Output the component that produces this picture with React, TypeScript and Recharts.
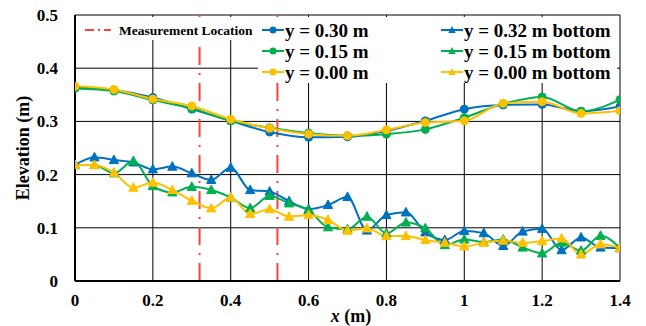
import React from 'react';
import { LineChart, Line, XAxis, YAxis, CartesianGrid, ReferenceLine } from 'recharts';

// ---- data ----
const xTop = [0, 0.1, 0.2, 0.3, 0.4, 0.5, 0.6, 0.7, 0.8, 0.9, 1.0, 1.1, 1.2, 1.3, 1.4];
const surf030 = [0.365, 0.359, 0.345, 0.323, 0.301, 0.28, 0.27, 0.271, 0.282, 0.301, 0.323, 0.331, 0.332, 0.319, 0.328];
const surf015 = [0.362, 0.357, 0.34, 0.3245, 0.301, 0.288, 0.278, 0.273, 0.276, 0.285, 0.307, 0.333, 0.346, 0.319, 0.341];
const surf000 = [0.366, 0.36, 0.342, 0.329, 0.304, 0.287, 0.276, 0.273, 0.284, 0.298, 0.301, 0.334, 0.337, 0.315, 0.32];

const xBottom = [0, 0.05, 0.1, 0.15, 0.2, 0.25, 0.3, 0.35, 0.4, 0.45, 0.5, 0.55, 0.6, 0.65, 0.7, 0.75, 0.8, 0.85, 0.9, 0.95, 1.0, 1.05, 1.1, 1.15, 1.2, 1.25, 1.3, 1.35, 1.4];
const bed032 = [0.218, 0.2325, 0.2275, 0.223, 0.21, 0.215, 0.2025, 0.19, 0.213, 0.171, 0.168, 0.15, 0.135, 0.143, 0.158, 0.095, 0.124, 0.129, 0.0915, 0.077, 0.094, 0.09, 0.066, 0.093, 0.098, 0.058, 0.082, 0.063, 0.062];
const bed015 = [0.218, 0.218, 0.2025, 0.2255, 0.1785, 0.1667, 0.177, 0.171, 0.157, 0.137, 0.16, 0.146, 0.1335, 0.101, 0.097, 0.121, 0.0895, 0.11, 0.099, 0.0675, 0.078, 0.073, 0.078, 0.063, 0.052, 0.072, 0.057, 0.085, 0.062];
const bed000 = [0.218, 0.218, 0.2035, 0.1755, 0.185, 0.171, 0.151, 0.1365, 0.157, 0.126, 0.135, 0.121, 0.124, 0.1147, 0.0946, 0.099, 0.0845, 0.0845, 0.077, 0.072, 0.065, 0.072, 0.076, 0.072, 0.075, 0.08, 0.05, 0.069, 0.062];

const measureX = [0.32, 0.52];
const xTicks = [0, 0.2, 0.4, 0.6, 0.8, 1, 1.2, 1.4];
const yTicks = [0, 0.1, 0.2, 0.3, 0.4, 0.5];

const surfNames = ['y = 0.30 m', 'y = 0.15 m', 'y = 0.00 m'];
const bedNames = ['y = 0.32 m bottom', 'y = 0.15 m bottom', 'y = 0.00 m bottom'];
const colors = ['#0070C0', '#00B050', '#FFC000'];
const measureName = 'Measurement Location';
const RED = '#FF4040';

const toPts = (xs: number[], ys: number[]) => xs.map((x, i) => ({ x, y: ys[i] }));
const surfData = [surf030, surf015, surf000].map((s) => toPts(xTop, s));
const bedData = [bed032, bed015, bed000].map((s) => toPts(xBottom, s));

const FONT = 'Liberation Serif';

const triPoints = (cx: number, cy: number, s = 1) =>
  `${cx},${cy - 5 * s} ${cx - 4.6 * s},${cy + 3.6 * s} ${cx + 4.6 * s},${cy + 3.6 * s}`;

const makeTriangle = (color: string) => (props: any) => {
  const { cx, cy, index } = props;
  if (cx == null || cy == null) return <g key={`t-${index}`} />;
  return <polygon key={`t-${index}`} points={triPoints(cx, cy)} fill={color} stroke={color} strokeWidth={1} />;
};

const txt = (size: number) => ({ fontFamily: FONT, fontWeight: 700, fontSize: size, fill: '#000' });

const LegendOverlay = () => {
  const rows = [30, 51, 72];
  return (
    <svg width={646} height={326} style={{ position: 'absolute', left: 0, top: 0, pointerEvents: 'none' }}>
      <rect x={80} y={17} width={537} height={23} fill="#fff" />
      <rect x={258} y={40} width={359} height={43} fill="#fff" />
      <line x1={85} x2={111} y1={30} y2={30} stroke={RED} strokeWidth={2} strokeDasharray="9 4 2 4" />
      <text x={119} y={30} dy="0.35em" style={txt(13.5)}>
        {measureName}
      </text>
      {surfNames.map((n, i) => (
        <g key={n}>
          <line x1={262} x2={284} y1={rows[i]} y2={rows[i]} stroke={colors[i]} strokeWidth={2} />
          <circle cx={273} cy={rows[i]} r={3.5} fill={colors[i]} />
          <text x={285} y={rows[i]} dy="0.35em" style={txt(19)}>
            {n}
          </text>
        </g>
      ))}
      {bedNames.map((n, i) => (
        <g key={n}>
          <line x1={441} x2={463} y1={rows[i]} y2={rows[i]} stroke={colors[i]} strokeWidth={2} />
          <polygon points={triPoints(452, rows[i], 0.8)} fill={colors[i]} />
          <text x={464} y={rows[i]} dy="0.35em" style={txt(19)}>
            {n}
          </text>
        </g>
      ))}
    </svg>
  );
};

export default function App() {
  const tickStyle = { ...txt(17), style: txt(17) } as any;
  return (
    <div style={{ position: 'absolute', left: 0, top: 0, width: 646, height: 326, background: '#fff', fontFamily: FONT }}>
      <LineChart width={646} height={326} margin={{ top: 15, right: 26, left: 0, bottom: 15 }}>
        <CartesianGrid stroke="#000" strokeWidth={1} />
        <XAxis
          dataKey="x"
          type="number"
          domain={[0, 1.4]}
          ticks={xTicks}
          allowDataOverflow
          height={30}
          tickLine={false}
          tickSize={0}
          tickMargin={13}
          axisLine={{ stroke: '#000', strokeWidth: 2 }}
          tick={tickStyle}
          tickFormatter={(v: number) => String(v)}
          label={{
            content: () => (
              <text x={351} y={322} textAnchor="middle" style={txt(18)}>
                <tspan style={{ fontStyle: 'italic' }}>x</tspan> (m)
              </text>
            ),
          }}
        />
        <YAxis
          type="number"
          domain={[0, 0.5]}
          ticks={yTicks}
          width={75}
          tickLine={false}
          tickSize={0}
          tickMargin={17}
          axisLine={{ stroke: '#000', strokeWidth: 2 }}
          tick={tickStyle}
          tickFormatter={(v: number) => String(v)}
          label={{
            content: () => (
              <text
                x={23}
                y={148}
                textAnchor="middle"
                dominantBaseline="central"
                transform="rotate(-90 23 148)"
                style={txt(18)}
              >
                Elevation (m)
              </text>
            ),
          }}
        />
        {measureX.map((mx) => (
          <ReferenceLine key={mx} x={mx} stroke={RED} strokeWidth={2} strokeDasharray="18 8 2 8" />
        ))}
        {surfData.map((d, i) => (
          <Line
            key={surfNames[i]}
            data={d}
            dataKey="y"
            type="monotone"
            stroke={colors[i]}
            strokeWidth={2}
            dot={{ r: 4, fill: colors[i], stroke: colors[i], strokeWidth: 1 }}
            isAnimationActive={false}
          />
        ))}
        {bedData.map((d, i) => (
          <Line
            key={bedNames[i]}
            data={d}
            dataKey="y"
            type="monotone"
            stroke={colors[i]}
            strokeWidth={2}
            dot={makeTriangle(colors[i])}
            isAnimationActive={false}
          />
        ))}
      </LineChart>
      <LegendOverlay />
    </div>
  );
}
